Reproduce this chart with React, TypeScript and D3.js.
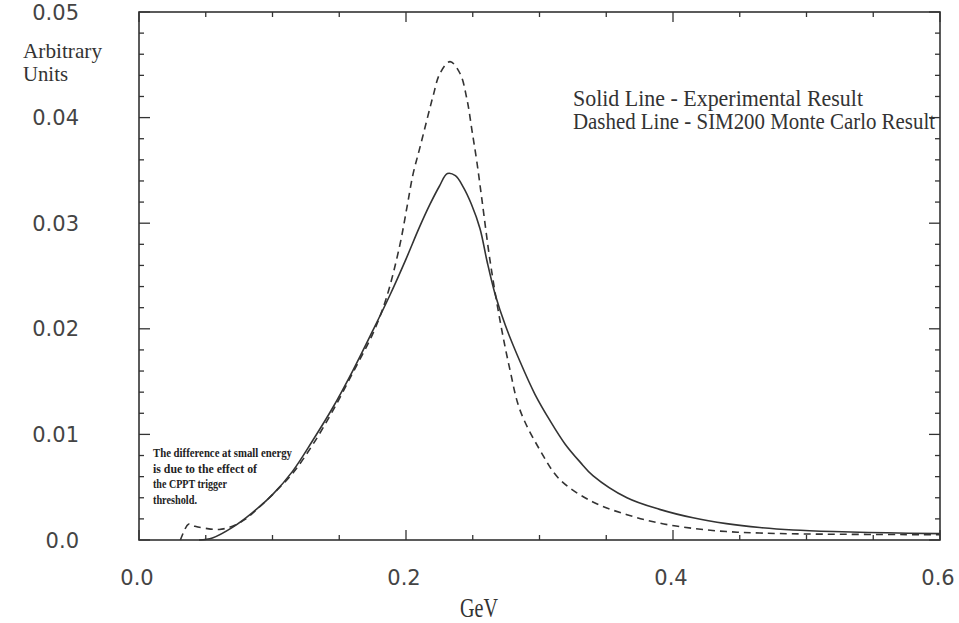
import React from "react";
import * as d3 from "d3";

// ---- data ----
const solidX = [0.045, 0.055, 0.07, 0.085, 0.1, 0.115, 0.13, 0.145, 0.16, 0.175, 0.188, 0.2, 0.21, 0.218, 0.225, 0.231, 0.237, 0.243, 0.249, 0.2554, 0.2607, 0.2667, 0.2742, 0.2854, 0.2966, 0.3079, 0.3191, 0.3303, 0.34, 0.3655, 0.39, 0.415, 0.44, 0.465, 0.49, 0.52, 0.56, 0.6];
const solidY = [0.0, 0.0002, 0.0012, 0.0026, 0.0043, 0.0065, 0.0094, 0.0125, 0.016, 0.0198, 0.0232, 0.0266, 0.0296, 0.0318, 0.0335, 0.0347, 0.0345, 0.0334, 0.0318, 0.0295, 0.0264, 0.0233, 0.0204, 0.0169, 0.0138, 0.0113, 0.0091, 0.0074, 0.0061, 0.004, 0.0029, 0.0021, 0.00155, 0.00118, 0.00095, 0.0008, 0.00068, 0.0006];

const dashedX = [0.031, 0.034, 0.037, 0.042, 0.05, 0.06, 0.07, 0.08, 0.09, 0.1, 0.115, 0.13, 0.145, 0.16, 0.175, 0.185, 0.195, 0.2007, 0.2052, 0.2105, 0.2157, 0.2202, 0.2255, 0.233, 0.2404, 0.2457, 0.2494, 0.2532, 0.2569, 0.2629, 0.2704, 0.2779, 0.2854, 0.3004, 0.3154, 0.34, 0.3655, 0.39, 0.415, 0.44, 0.465, 0.5, 0.6];
const dashedY = [0.0, 0.0009, 0.0015, 0.0013, 0.0011, 0.001, 0.0013, 0.002, 0.0031, 0.0043, 0.0063, 0.009, 0.0122, 0.0158, 0.0195, 0.0228, 0.0277, 0.0315, 0.0346, 0.0372, 0.0398, 0.042, 0.0442, 0.0453, 0.0442, 0.0417, 0.0388, 0.0357, 0.0322, 0.0265, 0.0208, 0.0161, 0.0123, 0.0085, 0.0057, 0.0036, 0.0024, 0.0016, 0.0011, 0.0008, 0.00066, 0.00057, 0.0005];

const xTickValues = [0, 0.2, 0.4, 0.6];
const xTickLabels = ["0.0", "0.2", "0.4", "0.6"];
const yTickValues = [0, 0.01, 0.02, 0.03, 0.04, 0.05];
const yTickLabels = ["0.0", "0.01", "0.02", "0.03", "0.04", "0.05"];

const legendLines = ["Solid Line - Experimental Result", "Dashed Line - SIM200 Monte Carlo Result"];
const noteLines = ["The difference at small energy", "is due to the effect of", "the CPPT trigger", "threshold."];
const yTitle = ["Arbitrary", "Units"];
const xTitle = "GeV";

const W = 959;
const H = 623;
const INK = "#333";

export default function App() {
  const x = d3.scaleLinear().domain([0, 0.6]).range([139, 940]);
  const y = d3.scaleLinear().domain([0, 0.05]).range([540, 12]);

  const line = d3
    .line<[number, number]>()
    .x((d) => x(d[0]))
    .y((d) => y(d[1]))
    .curve(d3.curveCatmullRom.alpha(0.5));

  const solid = solidX.map((v, i) => [v, solidY[i]] as [number, number]);
  const dashed = dashedX.map((v, i) => [v, dashedY[i]] as [number, number]);

  const yMinor = d3.range(0, 26).map((i) => i * 0.002);
  const xMinor = d3.range(0, 13).map((i) => i * 0.05);
  const isMajorY = (v: number) => Math.abs(v / 0.01 - Math.round(v / 0.01)) < 1e-6;
  const isMajorX = (v: number) =>
    Math.abs(v / 0.2 - Math.round(v / 0.2)) < 1e-6;

  const x0 = x(0), x1 = x(0.6), yb = y(0), yt = y(0.05);

  const serif = "'Liberation Serif', 'DejaVu Serif', serif";
  const sans = "'DejaVu Sans', 'Liberation Sans', sans-serif";

  const legendWidths = [290, 362];
  const noteWidths = [139, 104, 74, 44];

  return (
    <svg
      width={W}
      height={H}
      style={{ position: "absolute", left: 0, top: 0, background: "#fff" }}
    >
      <rect x={0} y={0} width={W} height={H} fill="#fff" />
      {/* frame */}
      <rect x={x0} y={yt} width={x1 - x0} height={yb - yt} fill="none" stroke={INK} strokeWidth={1.6} />

      {/* left & right ticks */}
      {yMinor.map((v, i) => {
        const len = isMajorY(v) ? 11 : 5;
        return (
          <g key={"yt" + i}>
            <line x1={x0} x2={x0 + len} y1={y(v)} y2={y(v)} stroke={INK} strokeWidth={1.3} />
            <line x1={x1} x2={x1 - len} y1={y(v)} y2={y(v)} stroke={INK} strokeWidth={1.3} />
          </g>
        );
      })}
      {/* top & bottom ticks */}
      {xMinor.map((v, i) => {
        const len = isMajorX(v) ? 10 : 5;
        return (
          <g key={"xt" + i}>
            <line x1={x(v)} x2={x(v)} y1={yb} y2={yb - len} stroke={INK} strokeWidth={1.3} />
            <line x1={x(v)} x2={x(v)} y1={yt} y2={yt + len} stroke={INK} strokeWidth={1.3} />
          </g>
        );
      })}

      {/* y tick labels */}
      {yTickValues.map((v, i) => (
        <text
          key={"yl" + i}
          x={79}
          y={y(v)}
          dy="0.36em"
          textAnchor="end"
          fontFamily={sans}
          fontSize={21}
          fill="#444"
        >
          {yTickLabels[i]}
        </text>
      ))}
      {/* x tick labels */}
      {xTickValues.map((v, i) => (
        <text
          key={"xl" + i}
          x={x(v) - 2}
          y={585}
          textAnchor="middle"
          fontFamily={sans}
          fontSize={21}
          fill="#444"
        >
          {xTickLabels[i]}
        </text>
      ))}

      {/* axis titles */}
      <text x={23} y={58} fontFamily={serif} fontSize={21} fill={INK} textLength={79} lengthAdjust="spacingAndGlyphs">
        {yTitle[0]}
      </text>
      <text x={23} y={81} fontFamily={serif} fontSize={21} fill={INK} textLength={45} lengthAdjust="spacingAndGlyphs">
        {yTitle[1]}
      </text>
      <text x={460} y={617} fontFamily={serif} fontSize={28} fill={INK} textLength={38} lengthAdjust="spacingAndGlyphs">
        {xTitle}
      </text>

      {/* legend text */}
      {legendLines.map((t, i) => (
        <text
          key={"lg" + i}
          x={573}
          y={106 + i * 23}
          fontFamily={serif}
          fontSize={23}
          fill={INK}
          textLength={legendWidths[i]}
          lengthAdjust="spacingAndGlyphs"
        >
          {t}
        </text>
      ))}

      {/* note */}
      {noteLines.map((t, i) => (
        <text
          key={"nt" + i}
          x={153}
          y={457 + i * 15.5}
          fontFamily={serif}
          fontWeight="bold"
          fontSize={13}
          fill="#222"
          textLength={noteWidths[i]}
          lengthAdjust="spacingAndGlyphs"
        >
          {t}
        </text>
      ))}

      {/* curves */}
      <path d={line(dashed) || ""} fill="none" stroke={INK} strokeWidth={1.6} strokeDasharray="7,5" />
      <path d={line(solid) || ""} fill="none" stroke={INK} strokeWidth={1.6} />
    </svg>
  );
}
